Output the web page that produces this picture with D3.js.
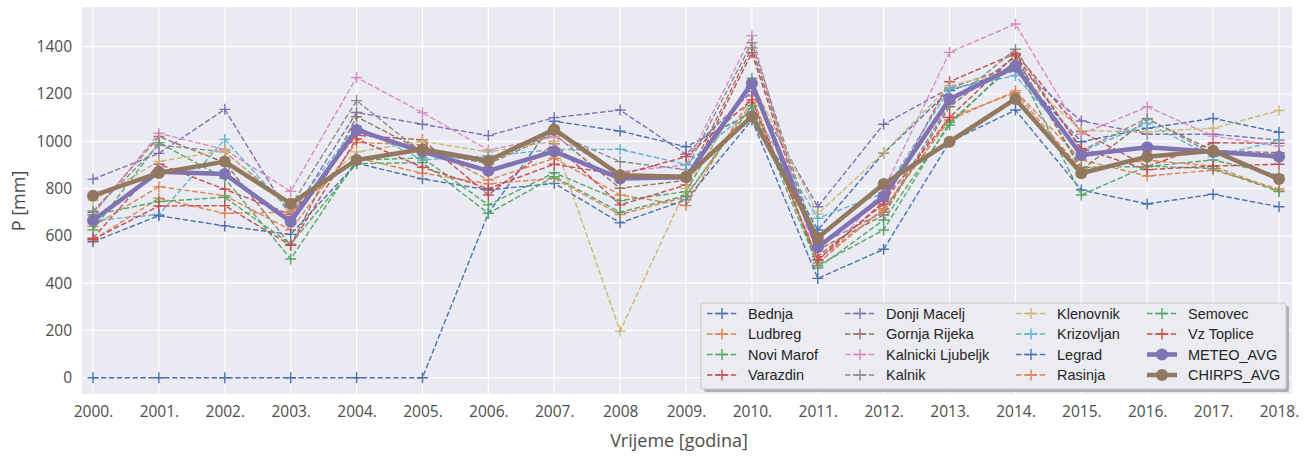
<!DOCTYPE html>
<html>
<head>
<meta charset="utf-8">
<script src="https://cdn.jsdelivr.net/npm/d3@7"></script>
<style>
  html, body { margin: 0; padding: 0; background: #ffffff; }
  svg { display: block; }
</style>
</head>
<body>
<svg id="chart" width="1313" height="456"></svg>
<script>
// ---------- DATA ----------
const years = [2000,2001,2002,2003,2004,2005,2006,2007,2008,2009,2010,2011,2012,2013,2014,2015,2016,2017,2018];
const yearLabels = ["2000.","2001.","2002.","2003.","2004.","2005.","2006.","2007.","2008","2009.","2010.","2011.","2012.","2013.","2014.","2015.","2016.","2017.","2018."];
const yTicks = [0,200,400,600,800,1000,1200,1400];

const bednja      = [0,0,0,0,0,0,695,1085,1043,977,1120,625,950,1215,1300,998,1055,1097,1038];
const ludbreg     = [640,808,770,625,995,985,836,928,773,728,1192,485,716,1090,1213,921,853,878,798];
const noviMarof   = [625,994,843,502,920,930,731,867,749,787,1267,464,667,1069,1344,890,893,921,857];
const varazdin    = [590,903,797,690,1025,1006,773,989,731,815,1375,512,735,1252,1372,1041,893,994,991];
const donjiMacelj = [840,949,1135,680,1122,1072,1024,1100,1132,945,1210,723,1072,1225,1320,1086,1030,1030,1005];
const gornjaRijeka= [700,1020,910,560,1104,960,905,1030,801,835,1395,540,688,1146,1360,878,1094,960,952];
const kalnickiLj  = [690,1034,965,788,1270,1121,963,1019,871,900,1447,470,794,1376,1496,1030,1146,1022,980];
const kalnik      = [705,984,955,725,1172,950,915,1035,914,880,1417,560,700,1160,1389,960,1097,945,945];
const klenovnik   = [750,915,960,710,955,1000,955,1000,197,800,1250,692,952,1235,1300,1045,1041,1055,1130];
const krizovljan  = [665,690,1008,700,1064,921,938,965,966,902,1140,674,781,1221,1278,956,1076,935,1003];
const legrad      = [575,685,642,606,907,841,794,822,655,752,1090,420,543,998,1132,794,735,776,723];
const rasinja     = [582,759,695,700,930,865,820,843,690,765,1165,500,710,1100,1205,880,920,895,790];
const semovec     = [688,745,763,565,905,910,695,850,700,770,1150,475,625,1080,1330,773,895,885,787];
const vzToplice   = [585,726,728,560,1010,890,800,903,858,935,1175,498,745,1101,1365,970,880,895,903];
const meteoAvg    = [665,871,862,660,1048,956,875,957,843,848,1245,552,766,1178,1316,942,975,956,935];
const chirpsAvg   = [770,866,914,736,921,966,918,1050,856,850,1105,592,819,998,1179,865,935,960,840];

const stationNames = ["Bednja","Ludbreg","Novi Marof","Varazdin","Donji Macelj","Gornja Rijeka","Kalnicki Ljubeljk","Kalnik","Klenovnik","Krizovljan","Legrad","Rasinja","Semovec","Vz Toplice"];
const stationValues = [bednja,ludbreg,noviMarof,varazdin,donjiMacelj,gornjaRijeka,kalnickiLj,kalnik,klenovnik,krizovljan,legrad,rasinja,semovec,vzToplice];
const avgNames = ["METEO_AVG","CHIRPS_AVG"];
const avgValues = [meteoAvg, chirpsAvg];

const palette = ["#4C72B0","#DD8452","#55A868","#C44E52","#8172B3","#937860","#DA8BC3","#8C8C8C","#CCB974","#64B5CD"];

// ---------- LAYOUT ----------
const svg = d3.select("#chart");
const L = 82, R = 1292, T = 7, B = 394;
const x = d3.scaleLinear().domain([1999.833, 2018.197]).range([L, R]);
const y = d3.scaleLinear().domain([-69, 1568]).range([B, T]);
const textColor = "#4d4d4d";
const axisFont = "'Open Sans', 'DejaVu Sans', sans-serif";

svg.append("rect").attr("x", L).attr("y", T).attr("width", R - L).attr("height", B - T).attr("fill", "#EAEAF2");

// grid
const grid = svg.append("g");
grid.selectAll("line.gy").data(yTicks).enter().append("line")
  .attr("x1", L).attr("x2", R).attr("y1", d => y(d)).attr("y2", d => y(d))
  .attr("stroke", "#fff").attr("stroke-width", 1.2);
grid.selectAll("line.gx").data(years).enter().append("line")
  .attr("y1", T).attr("y2", B).attr("x1", d => x(d)).attr("x2", d => x(d))
  .attr("stroke", "#fff").attr("stroke-width", 1.2);

// axes (labels only, no tick marks / domain)
const xAxis = d3.axisBottom(x).tickValues(years).tickSize(0).tickPadding(12)
  .tickFormat((d, i) => yearLabels[i]);
const gx = svg.append("g").attr("transform", `translate(0,${B})`).call(xAxis);
gx.select(".domain").remove();
gx.selectAll("text").attr("fill", textColor).style("font-family", axisFont).style("font-size", "15.5px");

const yAxis = d3.axisLeft(y).tickValues(yTicks).tickSize(0).tickPadding(10).tickFormat(d3.format("d"));
const gy = svg.append("g").attr("transform", `translate(${L},0)`).call(yAxis);
gy.select(".domain").remove();
gy.selectAll("text").attr("fill", textColor).style("font-family", axisFont).style("font-size", "15.5px");

svg.append("text").attr("x", (L + R) / 2 - 8).attr("y", 447).attr("text-anchor", "middle")
  .attr("fill", textColor).style("font-family", axisFont).style("font-size", "18px").text("Vrijeme [godina]");
svg.append("text").attr("transform", "translate(25,201) rotate(-90)").attr("text-anchor", "middle")
  .attr("fill", textColor).style("font-family", axisFont).style("font-size", "18px").text("P [mm]");

// ---------- MARKS ----------
const line = d3.line().x((d, i) => x(years[i])).y(d => y(d));
const plusPath = (cx, cy, s) => `M${cx - s},${cy}H${cx + s}M${cx},${cy - s}V${cy + s}`;

const plot = svg.append("g");
stationValues.forEach((vals, k) => {
  const c = palette[k % 10];
  const g = plot.append("g");
  g.append("path").datum(vals).attr("d", line).attr("fill", "none")
    .attr("stroke", c).attr("stroke-width", 1.4).attr("stroke-dasharray", "5.5,2.4");
  g.selectAll("path.m").data(vals).enter().append("path").attr("class", "m")
    .attr("d", (d, i) => plusPath(x(years[i]), y(d), 5.5))
    .attr("stroke", c).attr("stroke-width", 1.4).attr("fill", "none");
});
avgValues.forEach((vals, k) => {
  const c = palette[(stationValues.length + k) % 10];
  const g = plot.append("g");
  g.append("path").datum(vals).attr("d", line).attr("fill", "none")
    .attr("stroke", c).attr("stroke-width", 4.5).attr("stroke-linejoin", "round");
  g.selectAll("circle").data(vals).enter().append("circle")
    .attr("cx", (d, i) => x(years[i])).attr("cy", d => y(d)).attr("r", 6).attr("fill", c);
});

// ---------- LEGEND ----------
const lg = svg.append("g");
const lx = 701, ly = 303, lw = 585, lh = 86;
lg.append("rect").attr("x", lx + 3).attr("y", ly + 3).attr("width", lw).attr("height", lh)
  .attr("rx", 2).attr("fill", "#7f7f7f").attr("opacity", 0.55);
lg.append("rect").attr("x", lx).attr("y", ly).attr("width", lw).attr("height", lh)
  .attr("rx", 2).attr("fill", "#EBEBF2").attr("stroke", "#c8c8c8").attr("stroke-width", 1);

const allNames = stationNames.concat(avgNames);
const colX = [707, 845, 1016, 1147];
const rowY = [313.5, 334, 354.5, 375];
allNames.forEach((name, i) => {
  const col = Math.floor(i / 4), row = i % 4;
  const hx = colX[col], hy = rowY[row];
  const c = palette[i % 10];
  const isAvg = i >= stationNames.length;
  if (isAvg) {
    lg.append("line").attr("x1", hx).attr("x2", hx + 30).attr("y1", hy).attr("y2", hy)
      .attr("stroke", c).attr("stroke-width", 4.5);
    lg.append("circle").attr("cx", hx + 15).attr("cy", hy).attr("r", 6).attr("fill", c);
  } else {
    lg.append("line").attr("x1", hx).attr("x2", hx + 30).attr("y1", hy).attr("y2", hy)
      .attr("stroke", c).attr("stroke-width", 1.4).attr("stroke-dasharray", "5.5,2.4");
    lg.append("path").attr("d", plusPath(hx + 15, hy, 5.5)).attr("stroke", c).attr("stroke-width", 1.4);
  }
  lg.append("text").attr("x", hx + 41).attr("y", hy).attr("dy", "0.35em")
    .attr("fill", "#262626").style("font-family", "'Liberation Sans', Arial, sans-serif")
    .style("font-size", "14.5px").text(name);
});
</script>
</body>
</html>
